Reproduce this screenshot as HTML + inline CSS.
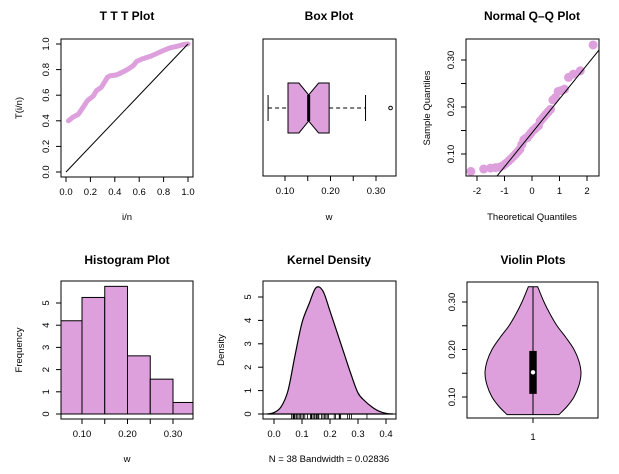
<!DOCTYPE html>
<html><head><meta charset="utf-8"><style>
html,body{margin:0;padding:0;background:#fff;}
svg{display:block;font-family:"Liberation Sans",Arial,sans-serif;}
.t{font-weight:bold;font-size:12px;text-anchor:middle;}
.k{font-size:9.5px;text-anchor:middle;}
.l{font-size:9.5px;text-anchor:middle;}
</style></head><body>
<svg id="s" width="619" height="474" viewBox="0 0 619 474" xmlns="http://www.w3.org/2000/svg"></svg>
<script>
const FILL='#dda0dd';
const sample=[0.063,0.068,0.070,0.071,0.072,0.075,0.080,0.085,0.090,0.095,0.100,0.105,0.110,0.120,0.130,0.133,0.135,0.140,0.145,0.150,0.153,0.157,0.160,0.170,0.175,0.180,0.185,0.190,0.195,0.215,0.220,0.233,0.235,0.238,0.263,0.270,0.277,0.332];
const tttX=[0.02,0.06,0.10,0.14,0.175,0.224,0.25,0.29,0.34,0.36,0.415,0.456,0.50,0.55,0.58,0.62,0.69,0.74,0.80,0.85,0.91,0.96,1.0];
const tttY=[0.40,0.43,0.45,0.505,0.557,0.594,0.636,0.662,0.741,0.751,0.759,0.777,0.798,0.83,0.864,0.882,0.903,0.924,0.95,0.969,0.982,0.995,1.0];
const boxStats=[0.0628,0.1066,0.152,0.197,0.277];
const notch=[0.1306,0.174];
const outliers=[0.332];
const histBreaks=[0.05,0.10,0.15,0.20,0.25,0.30,0.35];
const histHeights=[4.2,5.25,5.75,2.62,1.57,0.52];
const densX=[-0.025,0,0.025,0.05,0.075,0.1,0.125,0.15,0.175,0.2,0.225,0.25,0.275,0.3,0.325,0.35,0.375,0.4,0.425];
const densY=[0,0.06,0.3,1.0,2.5,3.9,4.7,5.4,5.25,4.4,3.5,2.6,1.7,0.9,0.55,0.3,0.12,0.03,0];
const violV=[0.063,0.08,0.10,0.125,0.15,0.175,0.20,0.225,0.25,0.275,0.30,0.332];
const violW=[26,34,41,46,48,46,41,33,24,17,11,4.7];
const tttTicks=['0.0','0.2','0.4','0.6','0.8','1.0'];
const wTicks=['0.10','0.20','0.30'];
const qqXTicks=['-2','-1','0','1','2'];
const histYTicks=['0','1','2','3','4','5'];
const densXTicks=['0.0','0.1','0.2','0.3','0.4'];

const S=document.getElementById('s');
function el(tag,a,txt){const e=document.createElementNS('http://www.w3.org/2000/svg',tag);for(const k in a)e.setAttribute(k,a[k]);if(txt!==undefined)e.textContent=txt;S.appendChild(e);return e;}
function lin(d0,d1,p0,p1){return v=>p0+(v-d0)*(p1-p0)/(d1-d0);}
function frame(x0,y0,x1,y1,n){const e=el('rect',{x:x0,y:y0,width:x1-x0,height:y1-y0,fill:'none',stroke:'#000','stroke-width':1});}
function title(x,y,t,n){const e=el('text',{x:x,y:y,class:'t'},t);}
function xaxis(vals,labels,sx,y,n){const xs=vals.map(sx);const g=el('g',{});
 el('line',{x1:xs[0],x2:xs[xs.length-1],y1:y,y2:y,stroke:'#000'});
 xs.forEach((x,i)=>{el('line',{x1:x,x2:x,y1:y,y2:y+5,stroke:'#000'});if(labels[i]!==null){const t=el('text',{x:x,y:y+18,class:'k'},labels[i]);}});}
function yaxis(vals,labels,sy,x,n){const ys=vals.map(sy);const g=el('g',{});
 el('line',{x1:x,x2:x,y1:ys[0],y2:ys[ys.length-1],stroke:'#000'});
 ys.forEach((y,i)=>{el('line',{x1:x,x2:x-5,y1:y,y2:y,stroke:'#000'});if(labels[i]!==null){const t=el('text',{x:x-12,y:y,class:'k',transform:`rotate(-90 ${x-12} ${y})`},labels[i]);}});}
function lab(x,y,t,rot,n){const a={x:x,y:y,class:'l'};if(rot)a.transform=`rotate(-90 ${x} ${y})`;const e=el('text',a,t);}
function smooth(pts){let d=`M${pts[0][0]},${pts[0][1]}`;for(let i=0;i<pts.length-1;i++){const p0=pts[Math.max(0,i-1)],p1=pts[i],p2=pts[i+1],p3=pts[Math.min(pts.length-1,i+2)];
 d+=`C${p1[0]+(p2[0]-p0[0])/6},${p1[1]+(p2[1]-p0[1])/6} ${p2[0]-(p3[0]-p1[0])/6},${p2[1]-(p3[1]-p1[1])/6} ${p2[0]},${p2[1]}`;}return d;}

// Panel 1: TTT
{const sx=lin(0,1,66,188),sy=lin(0,1,172,44);
 title(127,20,'T T T Plot','ttt');
 const d=tttX.map((x,i)=>(i?'L':'M')+sx(x)+','+sy(tttY[i])).join('');
 let p=el('path',{d:d,fill:'none',stroke:FILL,'stroke-width':5,'stroke-linejoin':'round','stroke-linecap':'round'});
 p=el('line',{x1:sx(0),y1:sy(0),x2:sx(1),y2:sy(1),stroke:'#000'});
 frame(61,39,193,177,'ttt');
 const tv=[0,0.2,0.4,0.6,0.8,1];xaxis(tv,tttTicks,sx,177,'ttt');yaxis(tv,tttTicks,sy,61,'ttt');
 lab(127,220,'i/n',false,'ttt-x-label');lab(22,108,'T(i/n)',true,'ttt-y-label');}

// Panel 2: Box
{const sx=lin(0.1,0.3,285,376);const cy=108,h=25,wh=13;
 title(329,20,'Box Plot','box');
 const [lo,q1,md,q3,hi]=boxStats;const nl=sx(notch[0]),nh=sx(notch[1]),m=sx(md);
 let p=el('line',{x1:sx(lo),x2:sx(q1),y1:cy,y2:cy,stroke:'#000','stroke-dasharray':'4,3'});
 p=el('line',{x1:sx(q3),x2:sx(hi),y1:cy,y2:cy,stroke:'#000','stroke-dasharray':'4,3'});
 el('line',{x1:sx(lo),x2:sx(lo),y1:cy-wh,y2:cy+wh,stroke:'#000'});el('line',{x1:sx(hi),x2:sx(hi),y1:cy-wh,y2:cy+wh,stroke:'#000'});
 p=el('path',{d:`M${sx(q1)},${cy-h}L${nl},${cy-h}L${m},${cy-13}L${nh},${cy-h}L${sx(q3)},${cy-h}L${sx(q3)},${cy+h}L${nh},${cy+h}L${m},${cy+13}L${nl},${cy+h}L${sx(q1)},${cy+h}Z`,fill:FILL,stroke:'#000'});
 p=el('line',{x1:m,x2:m,y1:cy-13,y2:cy+13,stroke:'#000','stroke-width':3});
 outliers.forEach(o=>{const c=el('circle',{cx:sx(o),cy:cy,r:1.8,fill:'none',stroke:'#000'});});
 frame(263,39,396,176,'box');
 xaxis([0.1,0.15,0.2,0.25,0.3],['0.10',null,'0.20',null,'0.30'],sx,176,'box');
 lab(329,220,'w',false,'box-x-label');}

// Panel 3: QQ
{const sx=lin(0,1,532,559.5),sy=lin(0.1,0.3,154,60);
 title(532,20,'Normal Q\u2013Q Plot','qq');
 function qn(p){// inverse normal (Acklam)
  const a=[-39.6968302866538,220.946098424521,-275.928510446969,138.357751867269,-30.6647980661472,2.50662827745924],b=[-54.4760987982241,161.585836858041,-155.698979859887,66.8013118877197,-13.2806815528857],c=[-0.00778489400243029,-0.322396458041136,-2.40075827716184,-2.54973253934373,4.37466414146497,2.93816398269878],d=[0.00778469570904146,0.32246712907004,2.445134137143,3.75440866190742];
  if(p<0.02425){const q=Math.sqrt(-2*Math.log(p));return (((((c[0]*q+c[1])*q+c[2])*q+c[3])*q+c[4])*q+c[5])/((((d[0]*q+d[1])*q+d[2])*q+d[3])*q+1);}
  if(p>1-0.02425)return -qn(1-p);const q=p-0.5,r=q*q;return (((((a[0]*r+a[1])*r+a[2])*r+a[3])*r+a[4])*r+a[5])*q/(((((b[0]*r+b[1])*r+b[2])*r+b[3])*r+b[4])*r+1);}
 const s=[...sample].sort((a,b)=>a-b),n=s.length;
 const cl=el('clipPath',{id:'qqc'});const cr=document.createElementNS('http://www.w3.org/2000/svg','rect');cr.setAttribute('x',466);cr.setAttribute('y',39);cr.setAttribute('width',133);cr.setAttribute('height',137);cl.appendChild(cr);
 const g=el('g',{'clip-path':'url(#qqc)'});
 s.forEach((v,i)=>{const c=document.createElementNS('http://www.w3.org/2000/svg','circle');c.setAttribute('cx',sx(qn((i+0.5)/n)));c.setAttribute('cy',sy(v));c.setAttribute('r',4.5);c.setAttribute('fill',FILL);
  
  g.appendChild(c);});
 function qt(p){const h=(n-1)*p,lo=Math.floor(h);return s[lo]+(h-lo)*(s[Math.min(n-1,lo+1)]-s[lo]);}
 const q1=qt(0.25),q3=qt(0.75),slope=(q3-q1)/(qn(0.75)-qn(0.25)),ic=q1-slope*qn(0.25);
 const ln=document.createElementNS('http://www.w3.org/2000/svg','line');ln.setAttribute('x1',sx(-3));ln.setAttribute('y1',sy(ic-3*slope));ln.setAttribute('x2',sx(3));ln.setAttribute('y2',sy(ic+3*slope));ln.setAttribute('stroke','#000');
 
 g.appendChild(ln);
 frame(466,39,599,176,'qq');
 xaxis([-2,-1,0,1,2],qqXTicks,sx,176,'qq');
 yaxis([0.1,0.15,0.2,0.25,0.3],['0.10',null,'0.20',null,'0.30'],sy,466,'qq');
 lab(532,220,'Theoretical Quantiles',false,'qq-x-label');lab(430,108,'Sample Quantiles',true,'qq-y-label');}

// Panel 4: Histogram
{const sx=lin(0.1,0.3,82,173),sy=lin(0,5,414,303);
 title(127,264,'Histogram Plot','hist');
 histHeights.forEach((h,i)=>{const x0=Math.max(61,sx(histBreaks[i])),x1=Math.min(193,sx(histBreaks[i+1]));const r=el('rect',{x:x0,y:sy(h),width:x1-x0,height:sy(0)-sy(h),fill:FILL,stroke:'#000'});});
 el('line',{x1:61,x2:193,y1:sy(0),y2:sy(0),stroke:'#000'});
 frame(61,281,193,419,'hist');
 xaxis([0.1,0.15,0.2,0.25,0.3],['0.10',null,'0.20',null,'0.30'],sx,419,'hist');
 yaxis([0,1,2,3,4,5],histYTicks,sy,61,'hist');
 lab(127,462,'w',false,'hist-x-label');lab(22,350,'Frequency',true,'hist-y-label');}

// Panel 5: Kernel density
{const sx=lin(0,0.4,274,386),sy=lin(0,5,414,297);
 title(329,264,'Kernel Density','dens');
 const pts=densX.map((x,i)=>[sx(x),sy(densY[i])]);
 let p=el('path',{d:smooth(pts)+'Z',fill:FILL,stroke:'#000','stroke-width':1.2});
 el('line',{x1:263,x2:396,y1:sy(0),y2:sy(0),stroke:'#000'});
 const g=el('g',{});
 sample.forEach(v=>{el('line',{x1:sx(v),x2:sx(v),y1:414,y2:419,stroke:'#000','stroke-width':0.8});});
 frame(263,281,396,419,'dens');
 xaxis([0,0.1,0.2,0.3,0.4],densXTicks,sx,419,'dens');
 yaxis([0,1,2,3,4,5],histYTicks,sy,263,'dens');
 lab(329,462,'N = 38   Bandwidth = 0.02836',false,'dens-x-label');lab(224,350,'Density',true,'dens-y-label');}

// Panel 6: Violin
{const sy=lin(0.1,0.3,397,302),cx=533;
 title(533,264,'Violin Plots','violin');
 const R=violV.map((v,i)=>[cx+violW[i],sy(v)]),L=violV.map((v,i)=>[cx-violW[i],sy(v)]).reverse();
 const d=smooth(R)+'L'+L[0][0]+','+L[0][1]+smooth(L).replace(/^M[^C]*/,'')+'Z';
 let p=el('path',{d:d,fill:FILL,stroke:'#000'});
 const [lo,q1,md,q3,hi]=boxStats;
 el('line',{x1:cx,x2:cx,y1:sy(violV[0]),y2:sy(violV[violV.length-1]),stroke:'#000'});
 p=el('rect',{x:cx-3.7,y:sy(q3),width:7.4,height:sy(q1)-sy(q3),fill:'#000'});
 p=el('circle',{cx:cx,cy:sy(md),r:2.2,fill:'#fff'});
 frame(467,282,598,418,'violin');
 el('line',{x1:cx,x2:cx,y1:418,y2:423,stroke:'#000'});
 lab(cx,440,'1',false,'violin-x-tick');
 yaxis([0.1,0.15,0.2,0.25,0.3],['0.10',null,'0.20',null,'0.30'],sy,467,'violin');}
</script>
</body></html>
